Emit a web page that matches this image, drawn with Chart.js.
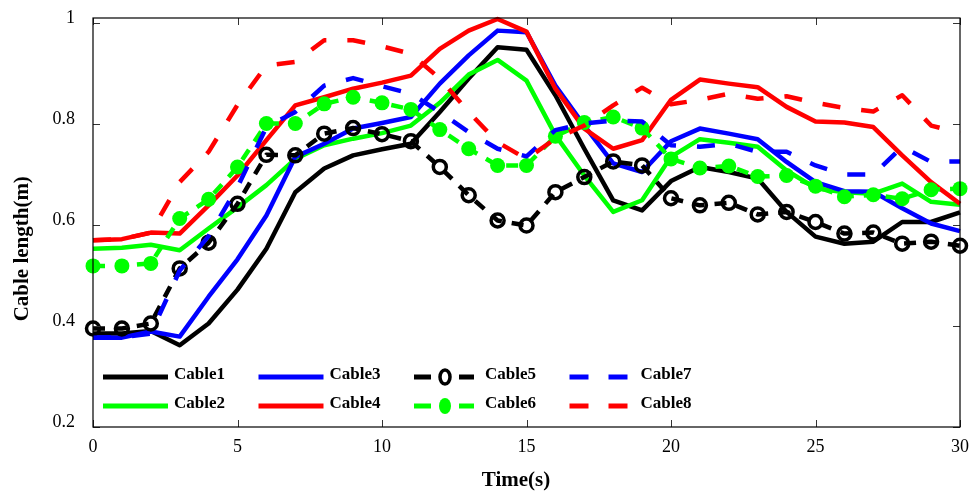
<!DOCTYPE html>
<html>
<head>
<meta charset="utf-8">
<script src="https://cdn.jsdelivr.net/npm/chart.js@4.4.1/dist/chart.umd.min.js"></script>
<style>
  html, body { margin: 0; padding: 0; background: #fff; }
  #wrap { width: 980px; height: 497px; }
</style>
</head>
<body>
<div id="wrap"><canvas id="chart" width="980" height="497"></canvas></div>
<script>
const times = [0, 1, 2, 3, 4, 5, 6, 7, 8, 9, 10, 11, 12, 13, 14, 15, 16, 17, 18, 19, 20, 21, 22, 23, 24, 25, 26, 27, 28, 29, 30];

const cable1 = [0.385, 0.385, 0.39, 0.362, 0.405, 0.472, 0.553, 0.665, 0.712, 0.738, 0.750, 0.761, 0.824, 0.89, 0.952, 0.947, 0.857, 0.751, 0.649, 0.629, 0.687, 0.715, 0.705, 0.692, 0.626, 0.577, 0.563, 0.567, 0.606, 0.606, 0.625];
const cable2 = [0.553, 0.555, 0.561, 0.55, 0.593, 0.635, 0.679, 0.731, 0.758, 0.771, 0.782, 0.797, 0.842, 0.898, 0.927, 0.886, 0.778, 0.698, 0.626, 0.649, 0.735, 0.77, 0.763, 0.755, 0.708, 0.673, 0.665, 0.662, 0.682, 0.646, 0.64];
const cable3 = [0.377, 0.377, 0.389, 0.379, 0.458, 0.532, 0.619, 0.735, 0.761, 0.791, 0.802, 0.814, 0.88, 0.936, 0.985, 0.982, 0.876, 0.797, 0.722, 0.705, 0.766, 0.791, 0.781, 0.77, 0.725, 0.685, 0.667, 0.666, 0.633, 0.603, 0.588];
const cable4 = [0.57, 0.572, 0.585, 0.583, 0.639, 0.698, 0.768, 0.837, 0.853, 0.87, 0.882, 0.896, 0.949, 0.985, 1.008, 0.983, 0.87, 0.791, 0.751, 0.768, 0.848, 0.888, 0.88, 0.873, 0.834, 0.805, 0.803, 0.794, 0.738, 0.685, 0.642];
const cable5 = [0.395, 0.395, 0.405, 0.514, 0.565, 0.642, 0.739, 0.738, 0.781, 0.792, 0.78, 0.766, 0.715, 0.659, 0.609, 0.599, 0.665, 0.695, 0.726, 0.718, 0.653, 0.639, 0.644, 0.621, 0.626, 0.606, 0.583, 0.585, 0.563, 0.567, 0.559];
const cable6 = [0.519, 0.519, 0.524, 0.613, 0.651, 0.715, 0.801, 0.801, 0.84, 0.853, 0.842, 0.829, 0.789, 0.751, 0.718, 0.718, 0.776, 0.803, 0.814, 0.792, 0.731, 0.713, 0.717, 0.696, 0.698, 0.677, 0.656, 0.66, 0.652, 0.67, 0.672];
const cable7 = [0.377, 0.378, 0.385, 0.51, 0.578, 0.675, 0.794, 0.824, 0.876, 0.891, 0.875, 0.86, 0.824, 0.784, 0.751, 0.736, 0.788, 0.801, 0.807, 0.805, 0.758, 0.755, 0.761, 0.745, 0.745, 0.718, 0.7, 0.7, 0.755, 0.725, 0.726];
const cable8 = [0.57, 0.572, 0.585, 0.685, 0.745, 0.838, 0.916, 0.923, 0.966, 0.966, 0.954, 0.939, 0.89, 0.824, 0.764, 0.731, 0.771, 0.797, 0.837, 0.872, 0.839, 0.848, 0.86, 0.85, 0.855, 0.842, 0.832, 0.825, 0.857, 0.797, 0.782];

const seriesNames = ['Cable1', 'Cable2', 'Cable3', 'Cable4', 'Cable5', 'Cable6', 'Cable7', 'Cable8'];
const seriesValues = [cable1, cable2, cable3, cable4, cable5, cable6, cable7, cable8];

const xTicks = [0, 5, 10, 15, 20, 25, 30];
const yTicks = [0.2, 0.4, 0.6, 0.8, 1];

// line look per series: colour, dash, marker
const styles = [
  { color: '#000000', dash: [], marker: null },
  { color: '#00ff00', dash: [], marker: null },
  { color: '#0000ff', dash: [], marker: null },
  { color: '#ff0000', dash: [], marker: null },
  { color: '#000000', dash: [12, 10], marker: 'open' },
  { color: '#00ff00', dash: [12, 10], marker: 'filled' },
  { color: '#0000ff', dash: [18, 21], marker: null },
  { color: '#ff0000', dash: [18, 21], marker: null },
];

const FONT = '"Liberation Serif", "Times New Roman", serif';

const datasets = seriesNames.map((label, i) => {
  const s = styles[i];
  return {
    label,
    data: times.map((t, k) => ({ x: t, y: seriesValues[i][k] })),
    borderColor: s.color,
    backgroundColor: s.color,
    borderWidth: 4.5,
    borderDash: s.dash,
    borderJoinStyle: 'round',
    pointRadius: s.marker === 'open' ? 6.5 : s.marker === 'filled' ? 7.5 : 0,
    pointBorderWidth: s.marker === 'open' ? 3.5 : 0,
    pointBorderColor: s.color,
    pointBackgroundColor: s.marker === 'open' ? 'rgba(0,0,0,0)' : s.color,
    pointStyle: 'circle',
    tension: 0,
    fill: false,
    clip: false,
    order: 7 - i,
    marker: s.marker,
  };
});

const frameTicks = {
  id: 'frameTicks',
  afterDraw(chart) {
    const { ctx, chartArea: a, scales: { x, y } } = chart;
    ctx.save();
    ctx.strokeStyle = '#333';
    ctx.lineWidth = 1;
    ctx.beginPath();
    xTicks.forEach((v) => {
      const px = Math.round(x.getPixelForValue(v)) + 0.5;
      ctx.moveTo(px, a.bottom); ctx.lineTo(px, a.bottom - 7);
      ctx.moveTo(px, a.top); ctx.lineTo(px, a.top + 7);
    });
    yTicks.forEach((v) => {
      const py = Math.round(y.getPixelForValue(v)) + 0.5;
      ctx.moveTo(a.left, py); ctx.lineTo(a.left + 7, py);
      ctx.moveTo(a.right, py); ctx.lineTo(a.right - 7, py);
    });
    ctx.stroke();
    ctx.strokeStyle = '#000';
    ctx.lineWidth = 1.2;
    ctx.strokeRect(a.left, a.top, a.right - a.left, a.bottom - a.top);
    ctx.restore();
  },
};

const legendBox = {
  id: 'legendBox',
  afterDraw(chart) {
    const { ctx, chartArea: a } = chart;
    chart.data.datasets.forEach((ds, i) => {
      const col = Math.floor(i / 2), row = i % 2;
      const x0 = a.left + 10 + col * 155.5;
      const yc = a.bottom - 50 + row * 29;
      ctx.save();
      ctx.strokeStyle = ds.borderColor;
      ctx.fillStyle = ds.borderColor;
      ctx.lineWidth = 5;
      ctx.beginPath();
      if (ds.marker) {
        ctx.moveTo(x0, yc); ctx.lineTo(x0 + 17, yc);
        ctx.moveTo(x0 + 45, yc); ctx.lineTo(x0 + 60, yc);
        ctx.stroke();
        ctx.beginPath();
        if (ds.marker === 'open') {
          ctx.lineWidth = 3.5;
          ctx.ellipse(x0 + 31, yc, 5, 7, 0, 0, Math.PI * 2);
          ctx.stroke();
        } else {
          ctx.ellipse(x0 + 31, yc, 6, 8, 0, 0, Math.PI * 2);
          ctx.fill();
        }
      } else if (ds.borderDash.length) {
        ctx.moveTo(x0, yc); ctx.lineTo(x0 + 19, yc);
        ctx.moveTo(x0 + 39, yc); ctx.lineTo(x0 + 58, yc);
        ctx.stroke();
      } else {
        ctx.moveTo(x0, yc); ctx.lineTo(x0 + 65, yc);
        ctx.stroke();
      }
      ctx.fillStyle = '#000';
      ctx.font = 'bold 17px ' + FONT;
      ctx.textBaseline = 'alphabetic';
      ctx.fillText(ds.label, x0 + 71, yc + 2);
      ctx.restore();
    });
  },
};

new Chart(document.getElementById('chart'), {
  type: 'line',
  data: { datasets },
  options: {
    responsive: false,
    animation: false,
    devicePixelRatio: 1,
    layout: { padding: { left: 0, right: 20, top: 18, bottom: 0 } },
    plugins: { legend: { display: false }, tooltip: { enabled: false } },
    scales: {
      x: {
        type: 'linear',
        min: 0,
        max: 30,
        afterBuildTicks: (s) => { s.ticks = xTicks.map((v) => ({ value: v })); },
        ticks: { padding: 9, color: '#000', maxRotation: 0, font: { family: FONT, size: 18 } },
        grid: { display: false, drawTicks: false },
        border: { display: false },
        // trailing spaces nudge the centred title a little left, as in the source figure
        title: { display: true, text: 'Time(s)    ', color: '#000', font: { family: FONT, size: 21, weight: 'bold' }, padding: { top: 0, bottom: 4 } },
        afterFit: (s) => { s.height = 70; s.paddingLeft = 0; s.paddingRight = 0; },
      },
      y: {
        type: 'linear',
        min: 0.2,
        max: 1.01,
        afterBuildTicks: (s) => { s.ticks = yTicks.map((v) => ({ value: v })); },
        ticks: {
          padding: 18,
          labelOffset: -5,
          color: '#000',
          font: { family: FONT, size: 18 },
          callback: (v) => String(Number(v.toFixed(1))),
        },
        grid: { display: false, drawTicks: false },
        border: { display: false },
        // label sits lower than the axis centre in the source figure
        title: { display: true, text: 'Cable length(m)          ', color: '#000', font: { family: FONT, size: 21, weight: 'bold' }, padding: { top: 10, bottom: 0 } },
        afterFit: (s) => { s.width = 93; s.paddingTop = 0; s.paddingBottom = 0; },
      },
    },
  },
  plugins: [frameTicks, legendBox],
});
</script>
</body>
</html>
